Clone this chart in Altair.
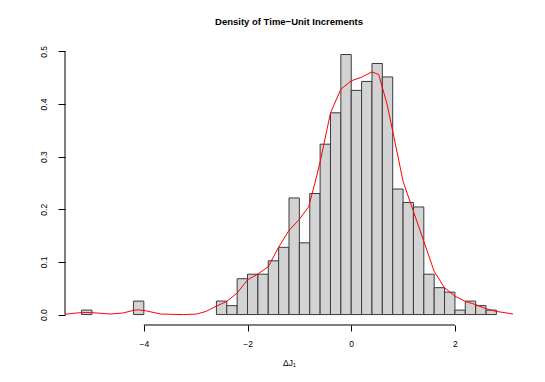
import altair as alt
import pandas as pd

# ---- data ----
bin_left = [-5.2, -4.2, -2.6, -2.4, -2.2, -2.0, -1.8, -1.6, -1.4, -1.2, -1.0, -0.8,
            -0.6, -0.4, -0.2, 0.0, 0.2, 0.4, 0.6, 0.8, 1.0, 1.2, 1.4, 1.6, 1.8,
            2.0, 2.2, 2.4, 2.6]
bin_width = 0.2
density = [0.0085, 0.0256, 0.0256, 0.0170, 0.0681, 0.0767, 0.0767, 0.1022, 0.1278,
           0.2215, 0.1363, 0.2300, 0.3237, 0.3833, 0.4940, 0.4259, 0.4429, 0.4770,
           0.4514, 0.2385, 0.2130, 0.2044, 0.0767, 0.0511, 0.0426, 0.0085, 0.0256,
           0.0170, 0.0085]

kde_x = [-5.6, -5.52, -5.3, -5.1, -4.9, -4.65, -4.4, -4.2, -4.1, -3.95, -3.68, -3.4,
         -3.23, -2.98, -2.8, -2.6, -2.4, -2.2, -2.0, -1.8, -1.6, -1.4, -1.2, -1.0,
         -0.82, -0.7, -0.6, -0.4, -0.2, 0.0, 0.2, 0.4, 0.53, 0.69, 0.82, 1.0, 1.2,
         1.4, 1.6, 1.8, 2.0, 2.2, 2.4, 2.6, 2.8, 3.13, 3.3]
kde_y = [0.0, 0.0005, 0.003, 0.004, 0.003, 0.001, 0.003, 0.008, 0.009, 0.007, 0.001,
         0.0003, 0.0, 0.001, 0.006, 0.016, 0.025, 0.041, 0.066, 0.077, 0.091, 0.128,
         0.16, 0.181, 0.205, 0.25, 0.29, 0.383, 0.428, 0.444, 0.451, 0.461, 0.456,
         0.40, 0.339, 0.253, 0.196, 0.139, 0.082, 0.051, 0.035, 0.025, 0.019, 0.011,
         0.006, 0.001, 0.0]

x_ticks = [-4, -2, 0, 2]
y_ticks = [0.0, 0.1, 0.2, 0.3, 0.4, 0.5]

title_text = "Density of Time\u2212Unit Increments"
x_label = "\u0394J\u2081"

# ---- layout ----
X_DOMAIN = [-5.52, 3.12]
Y_DOMAIN = [-0.0198, 0.514]
W, H = 448, 281
FONT = "Liberation Sans"

hist_df = pd.DataFrame({
    "x0": bin_left,
    "x1": [b + bin_width for b in bin_left],
    "d": density,
})
kde_df = pd.DataFrame({"x0": kde_x, "d": kde_y})
# axis lines (R draws them only between the extreme ticks)
xaxis_df = pd.DataFrame({"x0": [min(x_ticks)], "x1": [max(x_ticks)]})
yaxis_df = pd.DataFrame({"x0": [X_DOMAIN[0]], "d": [min(y_ticks)], "d2": [max(y_ticks)]})

xs = alt.Scale(domain=X_DOMAIN, nice=False, zero=False)
ys = alt.Scale(domain=Y_DOMAIN, nice=False, zero=False)

X_AXIS = alt.Axis(
    values=x_ticks, domain=False, grid=False, ticks=True, tickSize=6,
    tickColor="#000000", tickWidth=1, labelFont=FONT, labelFontSize=8.5,
    labelColor="#000000", labelPadding=8, labelBaseline="top",
    title=x_label, titleFont=FONT, titleFontSize=8.5, titleFontWeight="normal",
    titleColor="#000000", titlePadding=11)
Y_AXIS = alt.Axis(
    values=y_ticks, format=".1f", domain=False, grid=False, ticks=True,
    tickSize=7, tickColor="#000000", tickWidth=1, labelFont=FONT,
    labelFontSize=8.5, labelColor="#000000", labelAngle=270,
    labelAlign="center", labelBaseline="bottom", labelPadding=10, title="")


def xenc():
    return alt.X("x0:Q", scale=xs, axis=X_AXIS)


def yenc():
    return alt.Y("d:Q", scale=ys, axis=Y_AXIS)


bars = alt.Chart(hist_df).mark_rect(
    fill="#d3d3d3", stroke="#3a3a3a", strokeWidth=1
).encode(x=xenc(), x2="x1:Q", y=yenc(), y2=alt.datum(0))

kde = alt.Chart(kde_df).mark_line(color="#ff0000", strokeWidth=1, clip=True).encode(
    x=xenc(), y=yenc())

xline = alt.Chart(xaxis_df).mark_rule(color="#000000", strokeWidth=1.2).encode(
    x=xenc(), x2="x1:Q", y=alt.value(H))

yline = alt.Chart(yaxis_df).mark_rule(color="#000000", strokeWidth=1).encode(
    x=xenc(), y=yenc(), y2="d2:Q")

chart = alt.layer(bars, kde, yline, xline).properties(
    width=W, height=H,
    background="#ffffff",
    autosize=alt.AutoSizeParams(type="none"),
    padding={"left": 57, "top": 36, "right": 24, "bottom": 50},
    title=alt.Title(title_text, font=FONT, fontSize=9.5, fontWeight="bold",
                    anchor="middle", color="#000000", offset=18),
).configure_view(strokeWidth=0, stroke="transparent")

chart.save("out.html", embed_options={"renderer": "svg", "actions": False})
